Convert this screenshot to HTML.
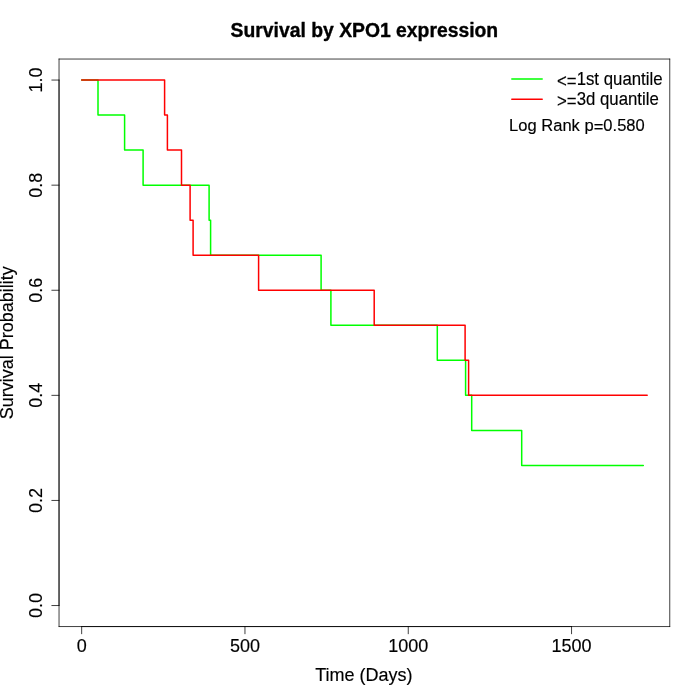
<!DOCTYPE html>
<html lang="en">
<head>
<meta charset="utf-8">
<title>Survival by XPO1 expression</title>
<style>html,body{margin:0;padding:0;background:#fff}body{width:700px;height:700px;overflow:hidden}</style>
</head>
<body>
<svg width="700" height="700" viewBox="0 0 700 700" style="display:block">
<rect width="700" height="700" fill="#fff"/>
<g fill="none" stroke-linecap="round" stroke-linejoin="round">
<polyline points="81.66,80.06 98.00,80.06 98.00,115.09 124.60,115.09 124.60,150.12 143.10,150.12 143.10,185.16 209.10,185.16 209.10,220.19 210.60,220.19 210.60,255.22 321.10,255.22 321.10,290.25 330.90,290.25 330.90,325.28 437.30,325.28 437.30,360.32 465.60,360.32 465.60,395.35 471.70,395.35 471.70,430.38 521.70,430.38 521.70,465.41 643.30,465.41" stroke="#00ff00" stroke-width="1.5"/>
<polyline points="81.66,80.06 164.60,80.06 164.60,115.09 167.40,115.09 167.40,150.12 181.50,150.12 181.50,185.16 190.10,185.16 190.10,220.19 193.10,220.19 193.10,255.22 258.60,255.22 258.60,290.25 374.20,290.25 374.20,325.28 465.10,325.28 465.10,360.32 468.60,360.32 468.60,395.35 647.20,395.35" stroke="#ff0000" stroke-width="1.5"/>
<g stroke="#000" stroke-width="0.75">
<line x1="59.04" y1="626.56" x2="669.76" y2="626.56"/>
<line x1="669.76" y1="626.56" x2="669.76" y2="59.04"/>
<line x1="669.76" y1="59.04" x2="59.04" y2="59.04"/>
<line x1="59.04" y1="59.04" x2="59.04" y2="626.56"/>
<line x1="81.66" y1="626.56" x2="571.56" y2="626.56"/>
<line x1="81.66" y1="626.56" x2="81.66" y2="633.76"/>
<line x1="244.96" y1="626.56" x2="244.96" y2="633.76"/>
<line x1="408.26" y1="626.56" x2="408.26" y2="633.76"/>
<line x1="571.56" y1="626.56" x2="571.56" y2="633.76"/>
<line x1="59.04" y1="605.54" x2="59.04" y2="80.06"/>
<line x1="59.04" y1="605.54" x2="51.84" y2="605.54"/>
<line x1="59.04" y1="500.44" x2="51.84" y2="500.44"/>
<line x1="59.04" y1="395.35" x2="51.84" y2="395.35"/>
<line x1="59.04" y1="290.25" x2="51.84" y2="290.25"/>
<line x1="59.04" y1="185.16" x2="51.84" y2="185.16"/>
<line x1="59.04" y1="80.06" x2="51.84" y2="80.06"/>
</g>
<line x1="511.8" y1="79.0" x2="542.2" y2="79.0" stroke="#00ff00" stroke-width="1.5"/>
<line x1="511.8" y1="99.2" x2="542.2" y2="99.2" stroke="#ff0000" stroke-width="1.5"/>
</g>
<g font-family="'Liberation Sans', sans-serif" fill="#000" stroke="#000" stroke-width="0.15" stroke-linejoin="round">
<text transform="translate(364.40 36.60) scale(1 1.06)" font-size="19.35" text-anchor="middle" font-weight="bold" stroke-width="0.35">Survival by XPO1 expression</text>
<g font-size="18" text-anchor="middle">
<text transform="translate(81.66 651.60) scale(1 1.07)">0</text>
<text transform="translate(244.96 651.60) scale(1 1.07)">500</text>
<text transform="translate(408.26 651.60) scale(1 1.07)">1000</text>
<text transform="translate(571.56 651.60) scale(1 1.07)">1500</text>
<text transform="translate(363.80 680.90) scale(1 1.07)">Time (Days)</text>
<text transform="translate(41.80 605.54) rotate(-90) scale(1 1.07)">0.0</text>
<text transform="translate(41.80 500.44) rotate(-90) scale(1 1.07)">0.2</text>
<text transform="translate(41.80 395.35) rotate(-90) scale(1 1.07)">0.4</text>
<text transform="translate(41.80 290.25) rotate(-90) scale(1 1.07)">0.6</text>
<text transform="translate(41.80 185.16) rotate(-90) scale(1 1.07)">0.8</text>
<text transform="translate(41.80 80.06) rotate(-90) scale(1 1.07)">1.0</text>
<text transform="translate(13.00 342.80) rotate(-90) scale(1 1.07)">Survival Probability</text>
</g>
<g font-size="16.8">
<text transform="translate(557.00 84.60) scale(1 1.05)"><tspan dy="2.2">&lt;=</tspan><tspan dy="-2.2">1st quantile</tspan></text>
<text transform="translate(557.00 104.60) scale(1 1.05)"><tspan dy="2.2">&gt;=</tspan><tspan dy="-2.2">3d quantile</tspan></text>
<text transform="translate(509.10 130.60) scale(1 1.05)" font-size="16.55">Log Rank p<tspan dy="1.2">=</tspan><tspan dy="-1.2">0.580</tspan></text>
</g>
</g>
</svg>
</body>
</html>
